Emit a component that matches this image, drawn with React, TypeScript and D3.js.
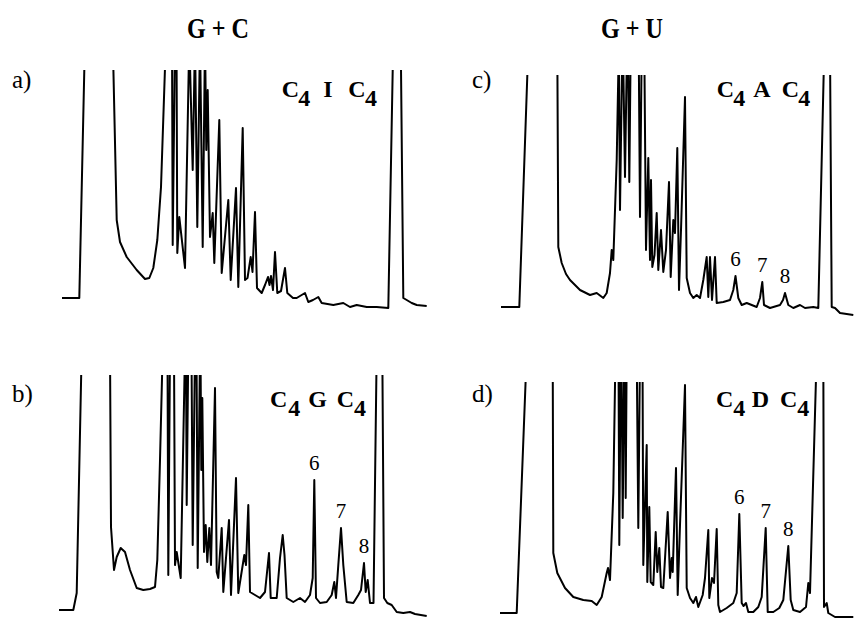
import React from 'react';
import * as d3 from 'd3';

// retention time (min) vs detector signal (a.u.); 260 = off scale (peak runs past the top)
const traceA: [number, number][] = [
  [0, 0], [1.73, 0], [2.3, 260], [5.07, 260], [5.47, 78], [5.8, 56], [6.47, 41], [7.47, 28], [8.3, 19],
  [8.73, 20], [9.13, 30], [9.53, 58], [9.9, 111], [10.4, 260], [11.0, 260], [11.07, 53], [11.3, 260],
  [11.45, 260], [11.53, 45], [11.73, 81], [12.3, 30], [12.73, 260], [13.07, 128], [13.3, 260], [13.53, 71],
  [13.8, 260], [14.07, 51], [14.3, 260], [14.43, 148], [14.57, 208], [14.8, 61], [15.07, 85], [15.23, 35],
  [15.73, 178], [15.97, 25], [16.63, 98], [16.87, 18], [17.4, 110], [17.63, 11], [18.07, 170], [18.3, 18],
  [18.55, 20], [18.87, 41], [19.05, 26], [19.3, 86], [19.5, 10], [19.97, 5], [20.3, 13], [20.6, 21],
  [20.75, 13], [20.9, 22], [21.1, 8], [21.3, 46], [21.53, 5], [21.9, 7], [22.3, 30], [22.53, 5], [23.1, 0],
  [23.47, 0], [23.8, 2], [24.3, 5], [24.63, -4], [25.1, -2], [25.63, 1], [25.97, -5], [27.13, -7],
  [28.13, -5], [28.8, -9], [29.47, -7], [30.47, -9], [31.47, -9], [32.63, -10], [33.13, 260], [33.87, 260],
  [34.13, 0], [34.47, -2], [34.97, -5], [35.47, -7], [36.47, -8],
];

const traceB: [number, number][] = [
  [0, 0], [1.43, 0], [1.77, 17], [2.27, 260], [5.1, 260], [5.2, 83], [5.5, 40], [5.77, 53], [6.17, 62],
  [6.6, 58], [7.1, 40], [7.77, 22], [8.43, 20], [9.1, 21], [9.6, 23], [9.83, 50], [10.1, 150], [10.37, 260],
  [10.85, 260], [10.93, 35], [11.1, 260], [11.5, 260], [11.6, 45], [11.77, 58], [12.17, 32], [12.6, 260],
  [12.7, 260], [12.77, 105], [12.93, 260], [13.25, 260], [13.37, 65], [13.6, 260], [13.75, 260], [13.87, 42],
  [14.1, 260], [14.15, 260], [14.23, 140], [14.33, 212], [14.5, 58], [14.67, 85], [14.83, 48], [15.03, 82],
  [15.2, 45], [15.6, 222], [15.77, 38], [15.93, 32], [16.27, 82], [16.43, 18], [17, 90], [17.2, 15],
  [17.7, 132], [17.93, 17], [18.53, 55], [18.7, 45], [18.93, 105], [19.1, 18], [19.6, 15], [20.1, 12],
  [20.6, 18], [21, 57], [21.17, 12], [21.77, 12], [22.1, 52], [22.37, 75], [22.55, 55], [22.77, 12],
  [23.43, 8], [24.1, 12], [24.6, 8], [25.1, 15], [25.37, 32], [25.53, 130], [25.7, 12], [26.1, 7],
  [26.77, 8], [27.27, 15], [27.53, 28], [27.7, 12], [27.93, 45], [28.2, 82], [28.43, 45], [28.77, 8],
  [29.43, 7], [29.93, 15], [30.2, 20], [30.5, 47], [30.67, 18], [30.87, 30], [31.1, 7], [31.45, 7],
  [31.77, 260], [32.33, 260], [32.5, 12], [32.83, 7], [33.27, 5], [33.77, -2], [34.43, -3], [35.1, -2],
  [35.6, -4], [36.77, -6],
];

const traceC: [number, number][] = [
  [0, 0], [1.83, 0], [2.73, 260], [5.63, 260], [5.73, 60], [6.07, 44], [6.5, 33], [6.9, 27], [7.9, 17],
  [8.9, 12], [9.57, 14], [10.23, 9], [10.57, 14], [10.9, 34], [11.07, 57], [11.23, 47], [11.57, 147],
  [11.78, 260], [11.9, 97], [12.13, 260], [12.2, 260], [12.4, 130], [12.6, 260], [12.7, 260], [12.83, 125],
  [12.97, 260], [13.77, 260], [13.9, 90], [14.07, 260], [14.33, 260], [14.5, 57], [14.73, 149], [14.9, 47],
  [15, 127], [15.13, 40], [15.35, 52], [15.57, 94], [15.73, 37], [16, 77], [16.23, 35], [16.5, 57],
  [16.8, 125], [16.97, 30], [17.23, 87], [17.4, 74], [17.63, 159], [17.8, 17], [18, 77], [18.4, 210],
  [18.57, 29], [18.9, 14], [19.23, 9], [19.57, 12], [19.9, 9], [20.23, 27], [20.57, 50], [20.73, 10],
  [20.9, 50], [21.1, 7], [21.4, 50], [21.57, 4], [22.23, 5], [22.9, 7], [23.23, 17], [23.45, 31],
  [23.73, 9], [24.07, 2], [24.57, 4], [25.57, 0], [25.9, 9], [26.13, 25], [26.3, 2], [26.9, -1], [27.9, 2],
  [28.2, 7], [28.4, 14], [28.73, 2], [29.23, -1], [29.9, 2], [30.4, -1], [31.23, 0], [31.73, -1],
  [32.33, 260], [32.9, 260], [33.07, 0], [33.4, -1], [33.9, -6], [35.23, -8],
];

const traceD: [number, number][] = [
  [0, 0], [1.67, 0], [2.67, 260], [5.27, 260], [5.33, 60], [5.73, 40], [6.5, 25], [7.33, 16], [8.33, 13],
  [9.17, 12], [9.67, 8], [10.17, 16], [10.67, 40], [10.8, 45], [11, 33], [11.33, 120], [11.55, 260],
  [11.85, 260], [11.93, 68], [12.07, 260], [12.15, 260], [12.27, 95], [12.43, 260], [12.5, 260],
  [12.57, 115], [12.67, 260], [13.67, 260], [13.83, 85], [14, 260], [14.25, 260], [14.33, 48],
  [14.67, 168], [14.73, 31], [14.93, 106], [15.07, 31], [15.33, 28], [15.57, 81], [15.73, 41], [15.93, 65],
  [16.1, 26], [16.33, 25], [16.77, 101], [17, 35], [17.17, 55], [17.27, 41], [17.6, 145], [17.77, 18],
  [18, 88], [18.5, 228], [18.67, 25], [19, 15], [19.33, 10], [19.6, 16], [19.83, 6], [20.27, 18],
  [20.5, 35], [20.83, 83], [20.93, 15], [21.2, 35], [21.4, 30], [21.67, 84], [21.83, 8], [22, 1],
  [22.67, 5], [23.33, 10], [23.67, 20], [23.93, 99], [24.17, 10], [24.35, 7], [24.6, 10], [24.83, 1],
  [25.33, 1], [25.83, 6], [26.17, 16], [26.57, 85], [26.77, 1], [27.33, 1], [27.93, 5], [28.33, 13],
  [28.83, 67], [29.07, 13], [29.33, 3], [30, 1], [30.6, 6], [30.83, 30], [31, 20], [31.67, 260],
  [32.33, 260], [32.4, 6], [32.67, 10], [32.83, 0], [33.5, -4], [35.33, -4],
];

// numbered peaks: label, retention time, apex signal
const peaksB: [string, number, number][] = [['6', 25.53, 130], ['7', 28.2, 82], ['8', 30.5, 47]];
const peaksC: [string, number, number][] = [['6', 23.45, 31], ['7', 26.13, 25], ['8', 28.4, 14]];
const peaksD: [string, number, number][] = [['6', 23.93, 99], ['7', 26.57, 85], ['8', 28.83, 67]];

const columnTitles = ['G + C', 'G + U'];
const panelTags = ['a)', 'b)', 'c)', 'd)'];
const middleBases = ['I', 'G', 'A', 'D'];

const serif = '"Liberation Serif", "DejaVu Serif", "Times New Roman", serif';

const x = d3.scaleLinear().domain([0, 37]).range([0, 370]);
const y = d3.scaleLinear().domain([0, 235]).range([0, -235]);
const trace = d3.line<[number, number]>().x(d => x(d[0])).y(d => y(d[1]));

// layout of each panel: origin of the axes, signal at the top edge, formula glyph positions
const layout = [
  { trace: traceA, peaks: [] as [string, number, number][], ox: 62, oy: 298, top: 228, tagY: 88, fy: 96.7, fx: [281.7, 298.3, 323.3, 348.3, 365] },
  { trace: traceB, peaks: peaksB, ox: 59, oy: 610, top: 235, tagY: 402, fy: 406.7, fx: [270, 288.3, 308.3, 336.7, 354] },
  { trace: traceC, peaks: peaksC, ox: 501, oy: 307, top: 232, tagY: 88, fy: 96.7, fx: [716.7, 733.3, 753.3, 781.7, 798.3] },
  { trace: traceD, peaks: peaksD, ox: 500, oy: 613, top: 231, tagY: 402, fy: 406.7, fx: [716, 733.3, 751.7, 780, 797.3] },
];
const tagX = [12, 12, 472, 472];

const txt = { fontFamily: serif };

const App = () => {
  return (
    <svg width={854} height={622} style={{ position: 'absolute', left: 0, top: 0, background: '#fff' }}>
      <rect width={854} height={622} fill="#fff" />
      {columnTitles.map((t, i) => (
        <text key={t} x={i === 0 ? 218 : 632} y={38} textAnchor="middle" fontWeight="bold" fontSize={29}
          textLength={62} lengthAdjust="spacingAndGlyphs" style={txt}>{t}</text>
      ))}
      <defs>
        {layout.map((p, i) => (
          <clipPath key={i} id={'clip' + i}>
            <rect x={-10} y={y(p.top)} width={400} height={y(p.top) * -1 + 30} />
          </clipPath>
        ))}
      </defs>
      {layout.map((p, i) => (
        <g key={i}>
          <g transform={`translate(${p.ox},${p.oy})`}>
            <path d={trace(p.trace) || ''} fill="none" stroke="#000" strokeWidth={2}
              strokeLinejoin="round" clipPath={`url(#clip${i})`} />
            {p.peaks.map(([n, t, s]) => (
              <text key={n} x={x(t)} y={y(s) - 10} textAnchor="middle" fontSize={21} style={txt}>{n}</text>
            ))}
          </g>
          <text x={tagX[i]} y={p.tagY} fontSize={25} style={txt}>{panelTags[i]}</text>
          <g fontWeight="bold" fontSize={24} style={txt}>
            <text x={p.fx[0]} y={p.fy}>C</text>
            <text x={p.fx[1]} y={p.fy + 9}>4</text>
            <text x={p.fx[2]} y={p.fy}>{middleBases[i]}</text>
            <text x={p.fx[3]} y={p.fy}>C</text>
            <text x={p.fx[4]} y={p.fy + 9}>4</text>
          </g>
        </g>
      ))}
    </svg>
  );
};

export default App;
